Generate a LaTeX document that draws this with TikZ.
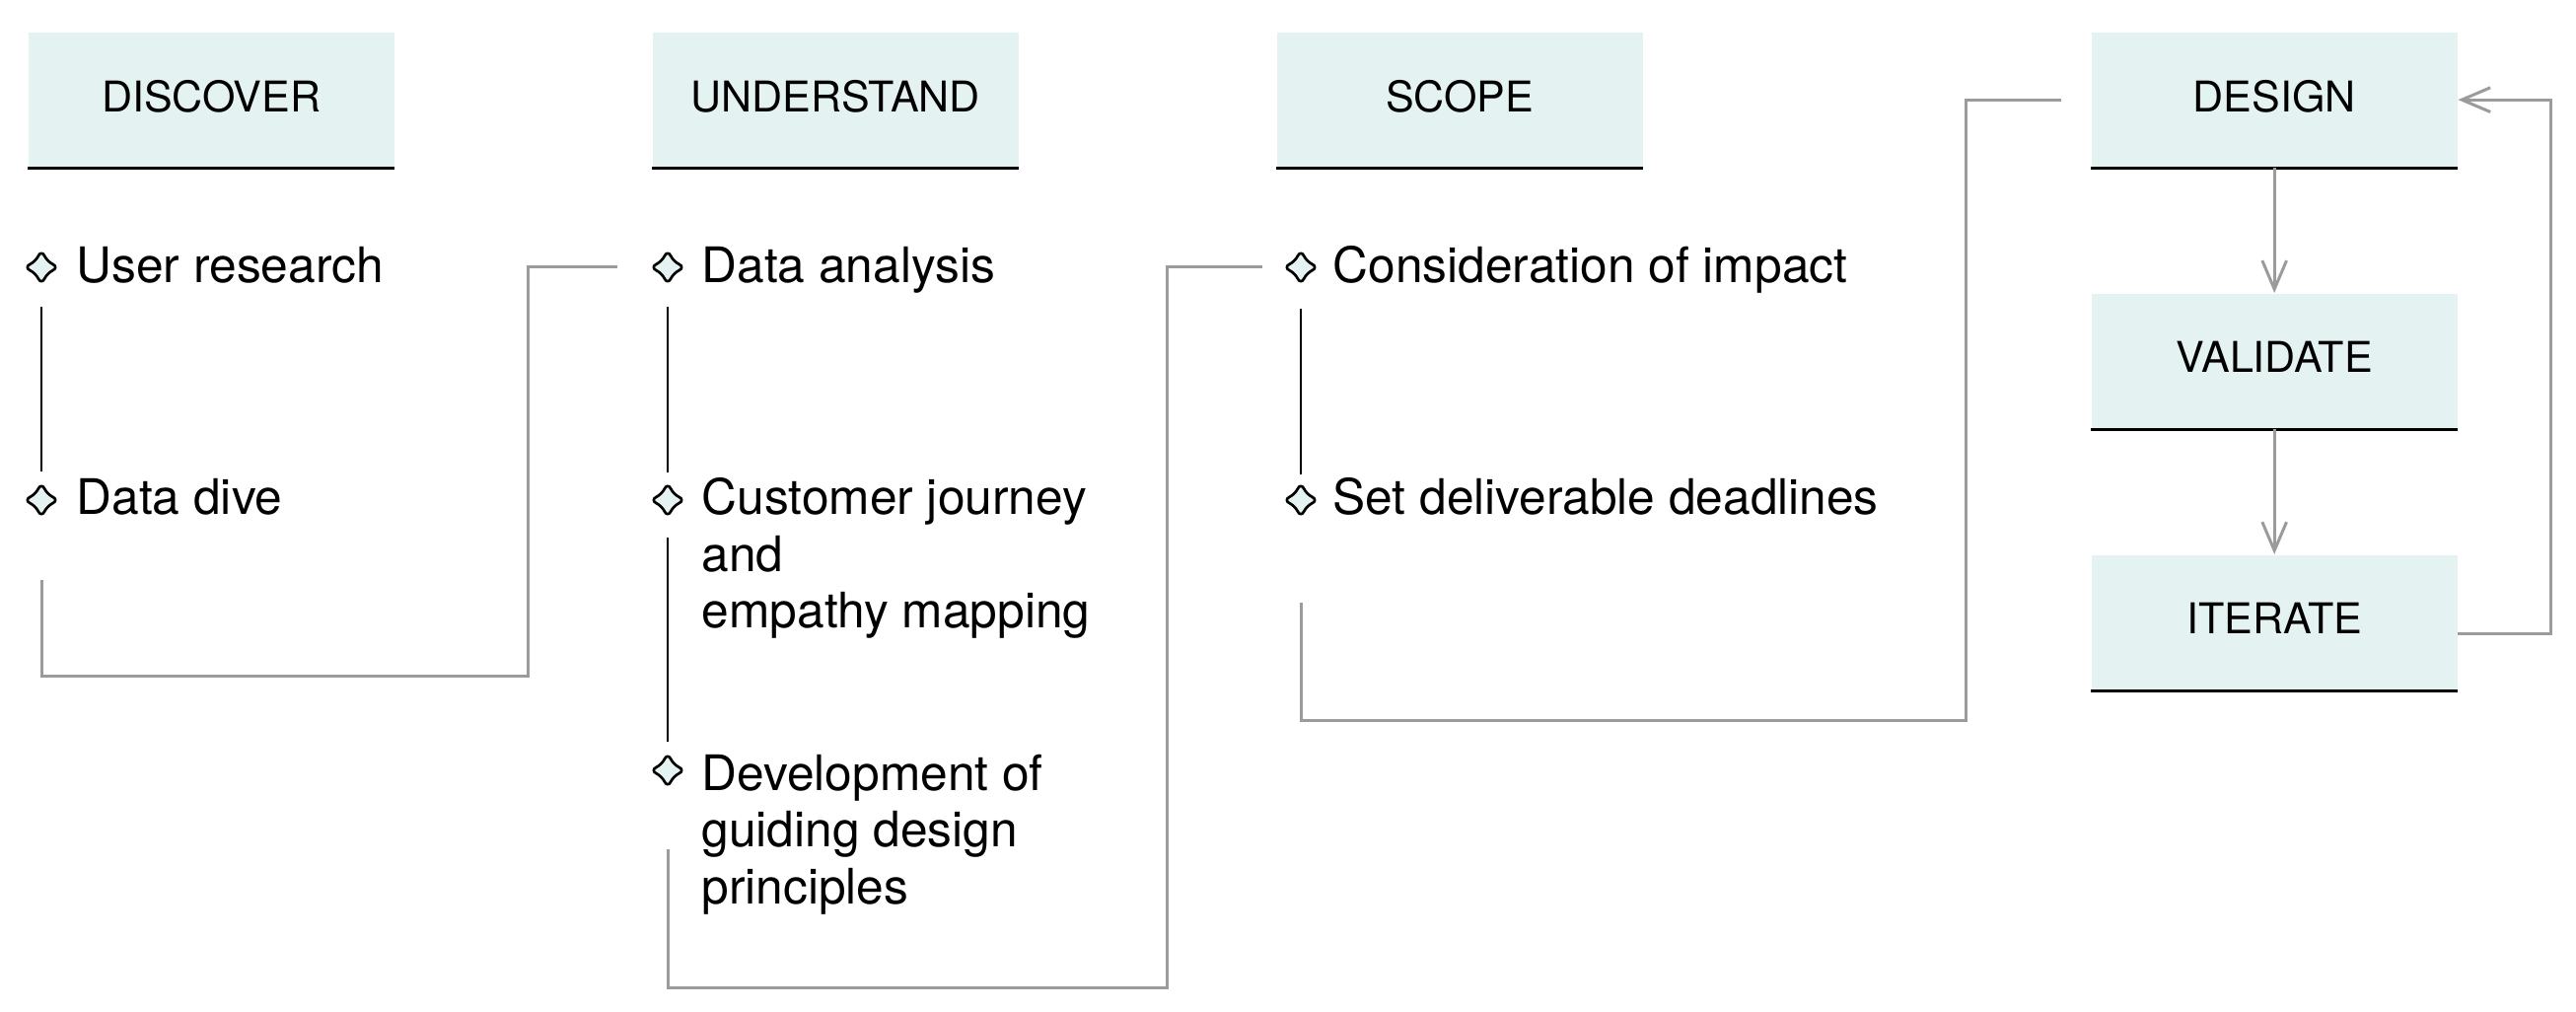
\documentclass[tikz,border=0pt]{standalone}
\usepackage{fontspec}
\setmainfont{TeX Gyre Heros}
\usetikzlibrary{arrows.meta,calc}
\definecolor{boxfill}{HTML}{E4F3F2}
\definecolor{linegray}{HTML}{9B9B9B}
\begin{document}
\begin{tikzpicture}[x=0.3pt,y=-0.3pt,
  header/.style={fill=boxfill, minimum width=111.3pt, minimum height=41.1pt,
    inner sep=0pt, anchor=north west, text depth=2.4pt,
    font=\fontsize{12.9}{15}\selectfont},
  uline/.style={draw=black, line width=0.9pt},
  marker/.style={circle, minimum size=10pt, inner sep=0pt},
  markershape/.style={draw=black, line width=0.8pt, fill=boxfill, line join=round},
  item/.style={anchor=base west, inner sep=0pt, align=left,
    font=\fontsize{14.9}{17.25}\selectfont},
  itemline/.style={draw=black, line width=0.75pt},
  flow/.style={draw=linegray, line width=0.9pt},
  flowarrow/.style={flow, -{Straight Barb[length=8.7pt,width=7.4pt]}}
]
\useasboundingbox (0,0) rectangle (2612,1026);

% headers
\node[header] (hdisc) at (28,32) {DISCOVER};
\node[header] (hund) at (661,32) {UNDERSTAND};
\node[header] (hscope) at (1294,32) {SCOPE};
\node[header] (hdesign) at (2120,32) {DESIGN};
\node[header] (hval) at (2120,297) {VALIDATE};
\node[header] (hiter) at (2120,562) {ITERATE};
\foreach \h in {hdisc,hund,hscope,hdesign,hval,hiter}
  \draw[uline] (\h.south west) -- (\h.south east);

% items
\node[marker] (ur) at (42,271) {};
\node[item] (tur) at (77,287) {User research};
\node[marker] (dd) at (42,507) {};
\node[item] (tdd) at (77,522) {Data dive};

\node[marker] (da) at (677,271) {};
\node[item] (tda) at (711,287) {Data analysis};
\node[marker] (cj) at (677,507) {};
\node[item] (tcj) at (711,637) {Customer journey\\and\\empathy mapping};
\node[marker] (dev) at (677,781) {};
\node[item] (tdev) at (711,916) {Development of\\guiding design\\principles};

\node[marker] (ci) at (1319,271) {};
\node[item] (tci) at (1351,287) {Consideration of impact};
\node[marker] (sd) at (1319,507) {};
\node[item] (tsd) at (1351,522) {Set deliverable deadlines};

% marker glyphs
\foreach \m in {ur,dd,da,cj,dev,ci,sd}
  \draw[markershape, shift={(\m.center)}]
    (-3.3,-11.3) .. controls (-1.6,-15.2) and (1.6,-15.2) .. (3.3,-11.3)
    .. controls (4.5,-8.55) and (8.55,-4.5) .. (11.3,-3.3)
    .. controls (15.2,-1.6) and (15.2,1.6) .. (11.3,3.3)
    .. controls (8.55,4.5) and (4.5,8.55) .. (3.3,11.3)
    .. controls (1.6,15.2) and (-1.6,15.2) .. (-3.3,11.3)
    .. controls (-4.5,8.55) and (-8.55,4.5) .. (-11.3,3.3)
    .. controls (-15.2,1.6) and (-15.2,-1.6) .. (-11.3,-3.3)
    .. controls (-8.55,-4.5) and (-4.5,-8.55) .. cycle;

% black item lines
\draw[itemline] ($(ur)+(0,40)$) -- ($(dd)+(0,-29)$);
\draw[itemline] ($(da)+(0,40)$) -- ($(cj)+(0,-28)$);
\draw[itemline] ($(cj)+(0,38)$) -- ($(dev)+(0,-29)$);
\draw[itemline] ($(ci)+(0,42)$) -- ($(sd)+(0,-26)$);

% gray flow connectors
\coordinate (c1) at (535,686);
\draw[flow] ($(dd)+(0,81)$) |- (c1) |- ($(da)+(-51,0)$);
\coordinate (c2) at (1183,1001);
\draw[flow] ($(dev)+(0,80)$) |- (c2) |- ($(ci)+(-39,0)$);
\coordinate (c3) at (1993,731);
\draw[flow] ($(sd)+(0,104)$) |- (c3) |- ($(hdesign.west)+(-30,0)$);

\draw[flowarrow] (hdesign.south) -- (hval.north);
\draw[flowarrow] (hval.south) -- (hiter.north);
\draw[flowarrow] ($(hiter.east)+(0,11)$) -- ++(94,0) |- (hdesign.east);
\end{tikzpicture}
\end{document}
